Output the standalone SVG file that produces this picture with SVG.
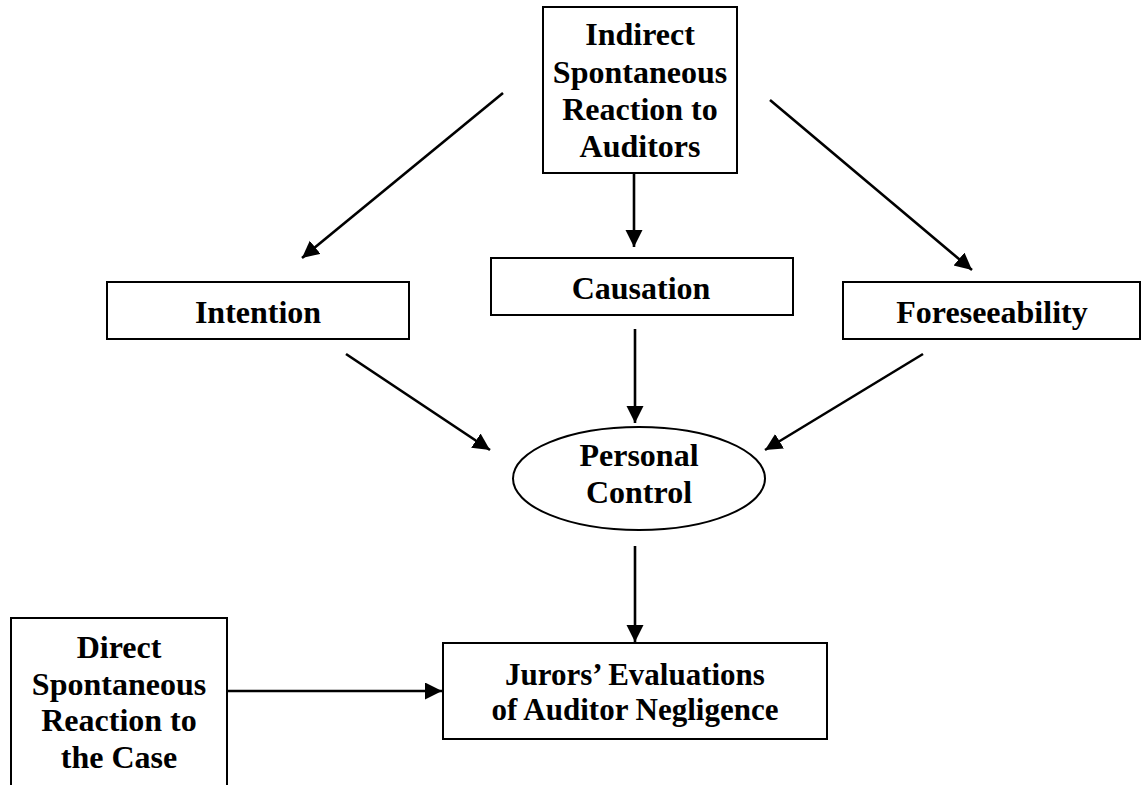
<svg xmlns="http://www.w3.org/2000/svg" width="1141" height="785" viewBox="0 0 1141 785">
<style>
.box{fill:#fff;stroke:#000;stroke-width:2}
.lbl{font-family:"Liberation Serif","Times New Roman",serif;font-weight:bold;font-size:32px;fill:#000;text-anchor:middle}
.sm{font-size:31px}
.conn{stroke:#000;stroke-width:2.6;fill:none;marker-end:url(#arr)}
</style>
<defs>
<marker id="arr" markerUnits="userSpaceOnUse" markerWidth="18" markerHeight="18" refX="17" refY="8.5" orient="auto">
<path d="M0,0 L17,8.5 L0,17 z" fill="#000"/>
</marker>
</defs>
<rect width="1141" height="785" fill="#fff"/>
<g id="connectors">
<line class="conn" x1="503" y1="93" x2="302" y2="258"/>
<line class="conn" x1="634" y1="173" x2="634" y2="247"/>
<line class="conn" x1="770" y1="100" x2="972" y2="270"/>
<line class="conn" x1="346" y1="354" x2="490" y2="450"/>
<line class="conn" x1="635" y1="329" x2="635" y2="423"/>
<line class="conn" x1="923" y1="354" x2="765" y2="450"/>
<line class="conn" x1="635" y1="546" x2="635" y2="642"/>
<line class="conn" x1="227" y1="691" x2="442" y2="691"/>
</g>
<g id="indirect">
<rect class="box" x="543" y="7" width="194" height="166"/>
<text class="lbl" x="640" y="45">Indirect</text>
<text class="lbl" x="640" y="83">Spontaneous</text>
<text class="lbl" x="640" y="120">Reaction to</text>
<text class="lbl" x="640" y="157">Auditors</text>
</g>
<g id="intention">
<rect class="box" x="107" y="282" width="302" height="57"/>
<text class="lbl" x="258" y="323">Intention</text>
</g>
<g id="causation">
<rect class="box" x="491" y="258" width="302" height="57"/>
<text class="lbl" x="641" y="299">Causation</text>
</g>
<g id="foreseeability">
<rect class="box" x="843" y="282" width="297" height="57"/>
<text class="lbl" x="992" y="323">Foreseeability</text>
</g>
<g id="personal-control">
<ellipse class="box" cx="639" cy="478.5" rx="126" ry="51.5"/>
<text class="lbl" x="639" y="466">Personal</text>
<text class="lbl" x="639" y="503">Control</text>
</g>
<g id="direct">
<rect class="box" x="11" y="618" width="216" height="190"/>
<text class="lbl" x="119" y="658">Direct</text>
<text class="lbl" x="119" y="695">Spontaneous</text>
<text class="lbl" x="119" y="731">Reaction to</text>
<text class="lbl" x="119" y="768">the Case</text>
</g>
<g id="jurors">
<rect class="box" x="443" y="643" width="384" height="96"/>
<text class="lbl sm" x="635" y="685">Jurors’ Evaluations</text>
<text class="lbl sm" x="635" y="720">of Auditor Negligence</text>
</g>
</svg>
